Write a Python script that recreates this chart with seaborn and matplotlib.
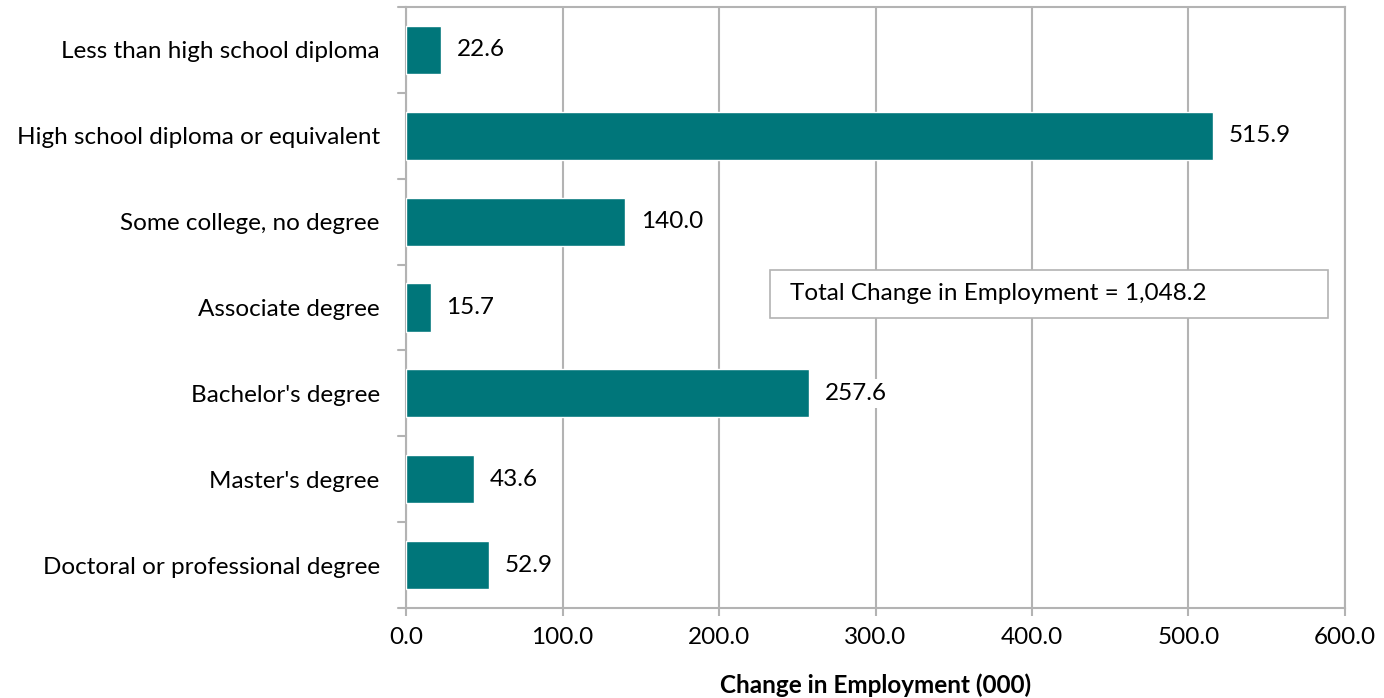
import matplotlib
matplotlib.use("Agg")
import matplotlib.pyplot as plt
import matplotlib.patches as mpatches
import seaborn as sns
import pandas as pd

categories = ["Less than high school diploma", "High school diploma or equivalent",
              "Some college, no degree", "Associate degree", "Bachelor's degree",
              "Master's degree", "Doctoral or professional degree"]
values = [22.6, 515.9, 140.0, 15.7, 257.6, 43.6, 52.9]
x_ticks = [0, 100, 200, 300, 400, 500, 600]
x_tick_labels = ["0.0", "100.0", "200.0", "300.0", "400.0", "500.0", "600.0"]
total_text = "Total Change in Employment = 1,048.2"
x_label = "Change in Employment (000)"

sns.set_theme(style="white")
plt.rcParams['font.family'] = ['Lato', 'DejaVu Sans']
plt.rcParams['text.color'] = 'black'
plt.rcParams['axes.labelcolor'] = 'black'

FS = 17.5
df = pd.DataFrame({"cat": categories, "val": values})
fig = plt.figure(figsize=(13.84, 6.98), dpi=100)
ax = fig.add_axes([0.2934, 0.129, 0.6784, 0.861])

sns.barplot(data=df, y="cat", x="val", orient="h", color="#00767A",
            saturation=1, width=0.56, ax=ax, zorder=3)

grid_c = "#B3B3B3"
ax.set_xlim(0, 600)
ax.set_ylim(len(categories) - 0.5, -0.5)
ax.set_xticks(x_ticks)
ax.set_xticklabels(x_tick_labels, fontsize=FS, color="black")
ax.xaxis.grid(True, color=grid_c, linewidth=1.5, zorder=0)
ax.set_axisbelow(True)
ax.set_yticks(range(len(categories)))
ax.set_yticklabels(categories, fontsize=FS, color="black")
ax.tick_params(axis="y", length=0, pad=19)
ax.tick_params(axis="x", length=6, width=1.5, color=grid_c, direction="out", pad=8, bottom=True)
for b in [i - 0.5 for i in range(len(categories) + 1)]:
    ax.plot([-0.009, 0], [b, b], transform=ax.get_yaxis_transform(), color=grid_c,
            lw=1.5, clip_on=False, zorder=4)
for s in ax.spines.values():
    s.set_color(grid_c)
    s.set_linewidth(1.5)
    s.set_visible(True)
ax.set_ylabel("")
ax.set_xlabel(x_label, fontsize=FS, fontweight="bold", labelpad=18, color="black")

for i, v in enumerate(values):
    ax.text(v + 10, i, f"{v:.1f}", va="center", ha="left", fontsize=FS, zorder=5,
            color="black", bbox=dict(facecolor="white", edgecolor="none", pad=3))

box = mpatches.Rectangle((0.3877, 0.4825), 0.5943, 0.0799, transform=ax.transAxes,
                         facecolor="white", edgecolor=grid_c, linewidth=1.2, zorder=6)
ax.add_patch(box)
ax.text(0.409, 0.5225, total_text, transform=ax.transAxes, fontsize=FS, va="center",
        ha="left", zorder=7, color="black")

fig.savefig("out.png", dpi=100)
